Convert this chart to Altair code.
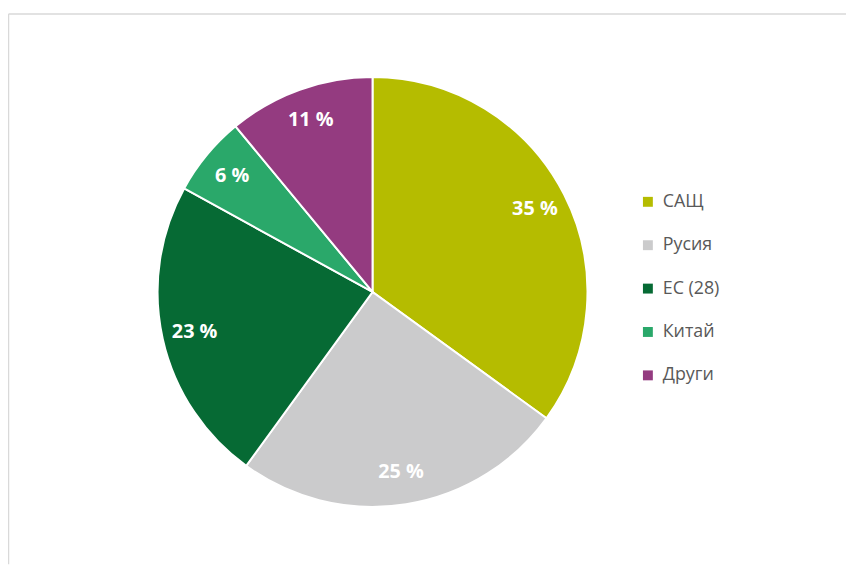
import altair as alt
import pandas as pd

categories = ["САЩ", "Русия", "ЕС (28)", "Китай", "Други"]
shares = [35, 25, 23, 6, 11]
labels = ["35 %", "25 %", "23 %", "6 %", "11 %"]
colors = ["#b5bc00", "#cbcbcc", "#066a34", "#2aa86a", "#943b80"]

df = pd.DataFrame({"cat": categories, "share": shares, "label": labels, "order": list(range(len(categories)))})

W, H = 846, 559
cx, cy = 368, 284
R = 217

base = alt.Chart(df).encode(
    theta=alt.Theta("share:Q", stack=True),
    order=alt.Order("order:Q"),
)

pie = base.mark_arc(outerRadius=R, stroke="white", strokeWidth=2, x=cx, y=cy).encode(
    color=alt.Color(
        "cat:N",
        sort=categories,
        scale=alt.Scale(domain=categories, range=colors),
        legend=alt.Legend(
            orient="none", legendX=637, legendY=184, title=None,
            symbolType="square", symbolSize=100, symbolStrokeWidth=0,
            labelFontSize=18, labelFont="Open Sans", labelColor="#595959",
            rowPadding=25.8, labelOffset=6, padding=0,
        ),
    )
)

text = base.mark_text(
    radius=184, x=cx, y=cy, font="Open Sans", fontSize=20, fontWeight="bold", color="white"
).encode(text="label:N")

frame_df = pd.DataFrame({"a": [0]})
vline = alt.Chart(frame_df).mark_rule(color="#d9d9d9", strokeWidth=1.5).encode(
    x=alt.value(0.5), y=alt.value(3.5), y2=alt.value(H)
)
hline = alt.Chart(frame_df).mark_rule(color="#d9d9d9", strokeWidth=1.5).encode(
    x=alt.value(0.5), x2=alt.value(W), y=alt.value(3.5)
)

chart = alt.layer(vline, hline, pie, text).properties(
    width=W, height=H, autosize=alt.AutoSizeParams(type="none"), padding=0
).configure_view(stroke=None)

chart.save("out.html", embed_options={"renderer": "svg", "actions": False})
